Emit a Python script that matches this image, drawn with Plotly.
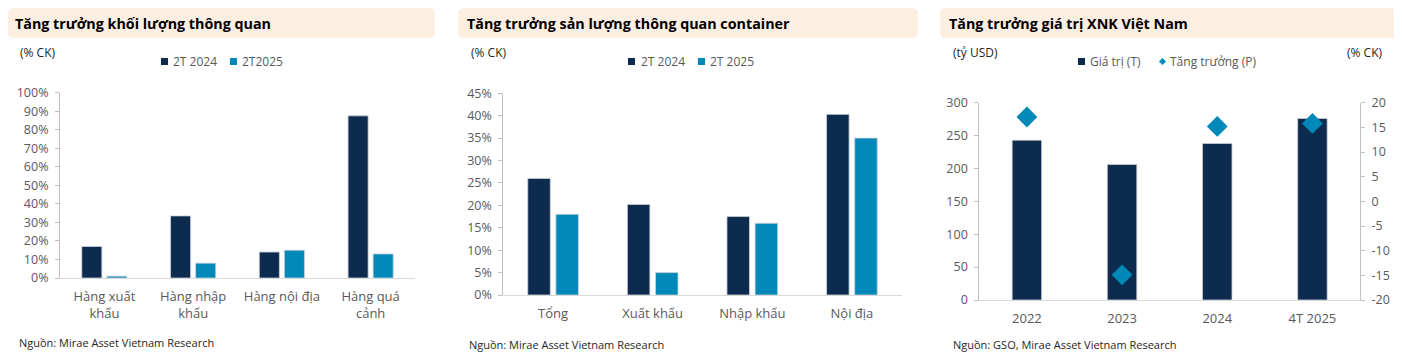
import plotly.graph_objects as go

# page body has an 8px default margin: draw in a figure shifted by that amount
OFF = 8
W, H = 1402 - OFF, 356 - OFF

# ---------------- data ----------------
cats1 = ["Hàng xuất<br>khẩu", "Hàng nhập<br>khẩu", "Hàng nội địa", "Hàng quá<br>cảnh"]
s1_2024 = [0.17, 0.335, 0.14, 0.875]
s1_2025 = [0.01, 0.08, 0.15, 0.13]

cats2 = ["Tổng", "Xuất khẩu", "Nhập khẩu", "Nội địa"]
s2_2024 = [0.26, 0.202, 0.175, 0.403]
s2_2025 = [0.18, 0.05, 0.16, 0.35]

cats3 = ["2022", "2023", "2024", "4T 2025"]
value3 = [243, 206, 238, 276]
growth3 = [17.1, -14.9, 15.2, 15.8]
right_ticks = [20, 15, 10, 5, 0, -5, -10, -15, -20]
right_tick_text = ["20", "15", "10", "5", "0", "-5", "-10", "-15", "-20"]

titles = ["Tăng trưởng khối lượng thông quan",
          "Tăng trưởng sản lượng thông quan container",
          "Tăng trưởng giá trị XNK Việt Nam"]

NAVY = "#0d2b4e"
TEAL = "#0088b8"
TICK = "#595959"
AXL = "#bfbfbf"
TXT = "#262626"
FONT = "Open Sans"


def px(x):
    return (x - OFF) / W


def py(y):
    return 1 - (y - OFF) / H


fig = go.Figure()
bar_line = dict(color="#c9d1db", width=0.8)

fig.add_trace(go.Bar(x=cats1, y=s1_2024, name="2T 2024", marker=dict(color=NAVY, line=bar_line),
                     xaxis="x", yaxis="y", showlegend=False))
fig.add_trace(go.Bar(x=cats1, y=s1_2025, name="2T2025", marker=dict(color=TEAL, line=bar_line),
                     xaxis="x", yaxis="y", showlegend=False))
fig.add_trace(go.Bar(x=cats2, y=s2_2024, name="2T 2024", marker=dict(color=NAVY, line=bar_line),
                     xaxis="x2", yaxis="y2", showlegend=False))
fig.add_trace(go.Bar(x=cats2, y=s2_2025, name="2T 2025", marker=dict(color=TEAL, line=bar_line),
                     xaxis="x2", yaxis="y2", showlegend=False))
fig.add_trace(go.Bar(x=cats3, y=value3, name="Giá trị (T)", width=0.31,
                     marker=dict(color=NAVY, line=bar_line),
                     xaxis="x3", yaxis="y3", showlegend=False))
fig.add_trace(go.Scatter(x=cats3, y=growth3, name="Tăng trưởng (P)", mode="markers",
                         marker=dict(symbol="diamond", size=16, color=TEAL),
                         xaxis="x3", yaxis="y4", showlegend=False))

xax = dict(showline=True, linecolor="#d9d9d9", linewidth=1, ticks="", showgrid=False, tickangle=0,
           zeroline=False, tickfont=dict(family=FONT, size=13, color=TICK), ticklabelstandoff=6)
yax = dict(showline=True, linecolor=AXL, linewidth=1, ticks="outside", ticklen=4, tickcolor=AXL,
           showgrid=False, zeroline=False, tickfont=dict(family=FONT, size=12.5, color=TICK),
           ticklabelstandoff=4)

fig.update_layout(
    width=W, height=H,
    margin=dict(l=0, r=0, t=0, b=0, autoexpand=False),
    paper_bgcolor="white", plot_bgcolor="white",
    barmode="group", bargap=0.435, bargroupgap=0.2,
    font=dict(family=FONT, color=TXT),
    xaxis=dict(xax, domain=[px(60), px(415)], anchor="y"),
    yaxis=dict(yax, domain=[py(278), py(92.7)], anchor="x", range=[0, 1.0], dtick=0.1, tickformat=".0%"),
    xaxis2=dict(xax, domain=[px(503.3), px(901.7)], anchor="y2"),
    yaxis2=dict(yax, domain=[py(295), py(93.3)], anchor="x2", range=[0, 0.45], dtick=0.05, tickformat=".0%"),
    xaxis3=dict(xax, domain=[px(979.3), px(1360)], anchor="y3"),
    yaxis3=dict(yax, domain=[py(300), py(102.7)], anchor="x3", range=[0, 300], dtick=50),
    yaxis4=dict(yax, domain=[py(300), py(102.7)], anchor="x3", overlaying="y3", side="right",
                range=[-20, 20], tickvals=right_ticks, ticktext=right_tick_text),
)


def rrect(x0, y0, x1, y1, r=6):
    return (f"M {px(x0 + r)} {py(y0)} L {px(x1 - r)} {py(y0)} "
            f"Q {px(x1)} {py(y0)} {px(x1)} {py(y0 + r)} L {px(x1)} {py(y1 - r)} "
            f"Q {px(x1)} {py(y1)} {px(x1 - r)} {py(y1)} L {px(x0 + r)} {py(y1)} "
            f"Q {px(x0)} {py(y1)} {px(x0)} {py(y1 - r)} L {px(x0)} {py(y0 + r)} "
            f"Q {px(x0)} {py(y0)} {px(x0 + r)} {py(y0)} Z")


shapes = []
annos = []


def txt(s, x, y, anchor="left", size=12, color=TXT):
    annos.append(dict(text=s, x=px(x), y=py(y), xref="paper", yref="paper", xanchor=anchor,
                      yanchor="middle", showarrow=False, font=dict(family=FONT, size=size, color=color)))


boxes = [(8, 435), (458, 918), (940, 1397)]
for (bx0, bx1), t in zip(boxes, titles):
    shapes.append(dict(type="path", path=rrect(bx0, 8, bx1, 38), xref="paper", yref="paper",
                       fillcolor="#fdeee2", line=dict(width=0), layer="below"))
    txt(f"<b>{t}</b>", bx0 + 7 if bx0 > 8 else 13, 23, size=14.3, color="#000000")


def sq(x, y, color, s=7):
    shapes.append(dict(type="rect", xref="paper", yref="paper", x0=px(x), x1=px(x + s),
                       y0=py(y + s / 2), y1=py(y - s / 2), fillcolor=color, line=dict(width=0)))


def dia(x, y, color, s=7):
    h = s / 2
    shapes.append(dict(type="path", xref="paper", yref="paper",
                       path=f"M {px(x)} {py(y)} L {px(x + h)} {py(y - h)} L {px(x + s)} {py(y)} "
                            f"L {px(x + h)} {py(y + h)} Z",
                       fillcolor=color, line=dict(width=0)))


# panel 1 labels / legend
txt("(% CK)", 18, 53)
sq(161, 61.5, NAVY); txt("2T 2024", 171, 61.5, color=TICK)
sq(230, 61.5, TEAL); txt("2T2025", 240, 61.5, color=TICK)
txt("Nguồn: Mirae Asset Vietnam Research", 17, 342, size=11)

# panel 2
txt("(% CK)", 469, 53)
sq(628, 61.5, NAVY); txt("2T 2024", 639, 61.5, color=TICK)
sq(698, 61.5, TEAL); txt("2T 2025", 708, 61.5, color=TICK)
txt("Nguồn: Mirae Asset Vietnam Research", 467, 344, size=11)

# panel 3
txt("(tỷ USD)", 951, 53)
txt("(% CK)", 1384, 53, anchor="right")
sq(1078, 61.5, NAVY); txt("Giá trị (T)", 1088, 61.5, color=TICK)
dia(1159, 61.5, TEAL); txt("Tăng trưởng (P)", 1168, 61.5, color=TICK)
txt("Nguồn: GSO, Mirae Asset Vietnam Research", 951, 344, size=11)

fig.update_layout(shapes=shapes, annotations=annos)
fig.write_html("out.html")
